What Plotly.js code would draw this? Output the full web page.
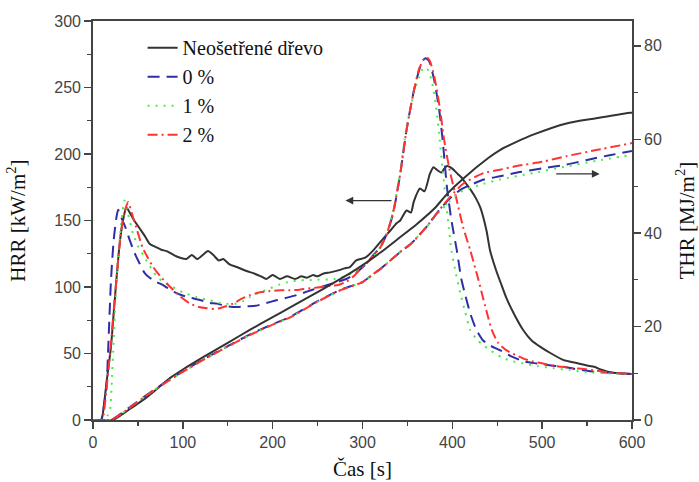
<!DOCTYPE html>
<html>
<head>
<meta charset="utf-8">
<script src="https://cdn.plot.ly/plotly-3.0.1.min.js"></script>
<style>html,body{margin:0;padding:0;background:#fff;}#chart{width:699px;height:482px;}</style>
</head>
<body>
<div id="chart"></div>
<script>
// ---- HRR data (kW/m2) ----
const seriesNames = ["Neošetřené dřevo", "0 %", "1 %", "2 %"];

const tHrrWood = [0,9,11,15,20,23,26,29,31.5,34,37,40,45,52,58,63,70,76,82,90,97,104,110,116,122,128,134,140,145,152,160,171,180,187,193,200,208,216,225,232,238,245,250,256,264,273,280,286,293,303,312,320,331,338,342,349,354,357,364,369,375,379,383,388,391,394,400,406,410,415,421,426,431,438,442,449,455,460,470,479,488,498,510,524,537,550,558,565,572,579,588,600];
const hrrWood  = [0,0,5,28,55,80,105,128,142.5,152,160,157,151,144,138,132.5,130,128,127,124,122,121,124,121,124,127,124,120,121,117,115,112,110,108,106,109,106,108,106,108,107,109,108,110,111,112.5,114,115,120,122,127.5,134,142.5,148,150,157.5,156,164,174,172,185,190,188,186,189,191,189,185,182.5,178,172.5,167,160,142.5,127.5,112,101,92,78,67.5,60,55,50,45,43,41,40,38,36.5,35.5,35,34.5];

const tHrr0 = [0,9,12,15,17,20,23,26,28,31,36,41,46,52,57,61,70,78,88,98,108,120,130,138,150,160,171,182,193,204,216,227,238,249,261,273,282,290,297,305,312,320,327,334,342,349,357,363,367,370,374,380,386,390,394,399,405,410,414,420,427,434,442,453,465,480,494,510,524,540,561,580,600];
const hrr0  = [0,0,10,25,55,105,135,152,158,153,145,135,126,117.5,111,108,104,101.5,97,94,92,90,88,87.5,85.5,85,85.5,86,88,90,92,94,96.5,99,101.5,104,106,109,113,118,124,130,140,155,185,218,247,263,270,272,270,255,230,205,175,150,127.5,106,95,80,67.5,60,56,52.5,48,44,42.5,41,40,38,36,35.5,34.5];

const tHrr1 = [0,12,16,19,21,23,25,28,31,35,39,44.5,50,56,63,71,80,89,100,115,130,145,160,168,175,186,197,208,219,230,238,250,268,280,290,298,305,312,320,327,334,342,349,357,363,368,372,377,382,386,389,392,396,399,404,409,414,420,428,435,442,455,465,479,495,512,530,550,575,600];
const hrr1  = [0,0,3,8,30,60,90,120,145,165,155,140,131,124,116,108,103,100,96,92.5,90,87.5,87.5,89.5,92.5,96,99,102,104,105,105,105.5,106,108,111,115,118,123,130,140,156,187,220,245,258,265,264,255,235,210,190,170,145,127.5,110,95,82,67.5,60,56,52.5,47,44.5,42.5,40.5,39,37.5,36,35,34.5];

const tHrr2 = [0,10,12,16,20,23,26,29,32,35,39,43,48,55,61,67,75,86,97,108,118,127,135,141,148,156,165,175,186,197,208,219,230,242,255,265,273,282,290,297,305,312,320,327,334,342,349,357,363,368,371,375,380,386,391,397,405,412,420,428,433,438,444,451,460,470,480,490,501,515,535,550,572,590,600];
const hrr2  = [0,0,5,30,58,82,105,128,145,156,164,156,145,130,122,115,108,100,93,87.5,85,84,83.5,84,85.5,87.5,91,94,96,97,97.5,97.5,98,99,100,101,101.5,104,108,113,118,124,130,140,156,185,218,247,264,271,273,270,258,235,210,188,165,145,127.5,108,95,82,67.5,58,52.5,49,46,44,42.5,40.5,39,38,36,35,34.5];

// ---- THR data (MJ/m2) ----
const tThrWood = [0,22,30,40,60,86,100,125,150,175,200,219,256,293,320,340,360,380,395,412,440,453,472,490,527,560,598,600];
const thrWood  = [0,0,0.9,2.2,4.9,9,10.8,13.7,16.5,19.3,22,24,28,32.2,35.8,38.8,41.8,45.2,48.5,51.6,56,57.7,59.5,61,63.4,64.5,65.7,65.7];

const tThr0 = [0,20,30,40,60,80,100,125,150,175,200,219,250,275,300,312,320,345,353,370,386,398,409,435,453,475,500,527,550,575,600];
const thr0  = [0,0,1.2,2.6,5.4,8,10.4,13.2,15.8,18.3,20.5,22,25.4,27.8,29.5,31.2,32.3,36.4,37.5,41,45,47.5,49.2,51.4,52.1,53,53.8,54.6,55.6,56.6,57.5];

const tThr1 = [0,20,30,40,60,80,100,125,150,175,200,219,250,275,300,312,320,345,353,370,386,398,409,435,453,490,527,560,600];
const thr1  = [0,0,1.1,2.5,5.3,7.9,10.3,13.1,15.7,18.2,20.4,21.9,25.3,27.7,29.5,31.2,32.3,36.4,37.5,41,44.6,47,48.8,50.5,51.4,52.8,54.2,55.4,56.7];

const tThr2 = [0,20,30,40,60,80,100,125,150,175,200,219,250,275,300,312,320,345,353,370,386,398,412,435,453,472,500,527,560,600];
const thr2  = [0,0,1.1,2.5,5.3,7.9,10.3,13.1,15.7,18.2,20.4,21.9,25.3,27.7,29.5,31.2,32.3,36.4,37.5,41,45,47.8,50.5,52.8,53.5,54.3,55.2,56.4,57.7,59.2];

const colors = ["#333333", "#2e2ea8", "#44ee44", "#ff3333"];
const dashes = ["solid", "12px,7px", "2px,6px", "10px,4px,2px,4px"];

const hrrT = [tHrrWood, tHrr0, tHrr1, tHrr2];
const hrrV = [hrrWood, hrr0, hrr1, hrr2];
const thrT = [tThrWood, tThr0, tThr1, tThr2];
const thrV = [thrWood, thr0, thr1, thr2];

const traces = [];
for (let i = 0; i < 4; i++) {
  traces.push({x: hrrT[i], y: hrrV[i], name: seriesNames[i], type: 'scatter', mode: 'lines',
    line: {color: colors[i], width: 2, dash: dashes[i], shape: 'spline', smoothing: 0.6}, yaxis: 'y'});
}
for (let i = 0; i < 4; i++) {
  traces.push({x: thrT[i], y: thrV[i], name: seriesNames[i], type: 'scatter', mode: 'lines', showlegend: false,
    line: {color: colors[i], width: 2, dash: dashes[i], shape: 'spline', smoothing: 0.6}, yaxis: 'y2'});
}

const serif = "'Liberation Serif', 'Times New Roman', serif";
const tickFont = {family: "'Liberation Sans', Arial, sans-serif", size: 16, color: '#444'};
const titleFont = {family: serif, size: 21, color: '#111'};

const layout = {
  width: 699, height: 482,
  margin: {l: 93, r: 67, t: 21, b: 62},
  paper_bgcolor: '#fff', plot_bgcolor: '#fff',
  showlegend: true,
  legend: {x: 0.092, y: 0.982, xanchor: 'left', yanchor: 'top', bgcolor: 'rgba(0,0,0,0)',
    font: {family: serif, size: 20, color: '#111'}},
  xaxis: {range: [0, 600], dtick: 100, tick0: 0, showgrid: false, zeroline: false,
    showline: true, linecolor: '#444', linewidth: 1.8, mirror: true,
    ticks: 'outside', ticklen: 7, tickwidth: 1.5, tickcolor: '#444', tickfont: tickFont,
    minor: {ticks: 'outside', ticklen: 4, dtick: 50, tickcolor: '#444', tickwidth: 1.2},
    title: {text: 'Čas [s]', font: titleFont, standoff: 11}},
  yaxis: {range: [0, 300], dtick: 50, tick0: 0, showgrid: false, zeroline: false,
    showline: true, linecolor: '#444', linewidth: 1.8,
    ticks: 'outside', ticklen: 7, tickwidth: 1.5, tickcolor: '#444', tickfont: tickFont,
    minor: {ticks: 'outside', ticklen: 4, dtick: 25, tickcolor: '#444', tickwidth: 1.2},
    title: {text: 'HRR [kW/m<sup>2</sup>]', font: titleFont, standoff: 23}},
  yaxis2: {range: [0, 85.3], dtick: 20, tick0: 0, overlaying: 'y', side: 'right', showgrid: false, zeroline: false,
    showline: true, linecolor: '#444', linewidth: 1.8,
    ticks: 'outside', ticklen: 7, tickwidth: 1.5, tickcolor: '#444', tickfont: tickFont,
    minor: {ticks: 'outside', ticklen: 4, dtick: 10, tickcolor: '#444', tickwidth: 1.2},
    title: {text: 'THR [MJ/m<sup>2</sup>]', font: titleFont, standoff: 19}},
  annotations: [
    {x: 281, y: 165, xref: 'x', yref: 'y', ax: 334, ay: 165, axref: 'x', ayref: 'y', text: '',
      showarrow: true, arrowhead: 2, arrowsize: 1.3, arrowwidth: 1.2, arrowcolor: '#333'},
    {x: 564, y: 185, xref: 'x', yref: 'y', ax: 514, ay: 185, axref: 'x', ayref: 'y', text: '',
      showarrow: true, arrowhead: 2, arrowsize: 1.3, arrowwidth: 1.2, arrowcolor: '#333'}
  ]
};

Plotly.newPlot('chart', traces, layout, {displayModeBar: false, staticPlot: true});
</script>
</body>
</html>
